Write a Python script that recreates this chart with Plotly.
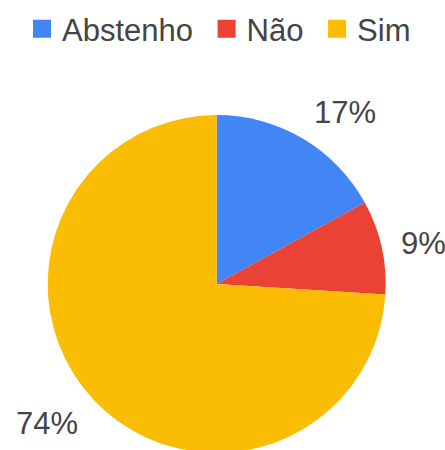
import math
import plotly.graph_objects as go

# ---- data ----
labels = ["Abstenho", "Não", "Sim"]
values = [17, 9, 74]
colors = ["#4285F4", "#EA4335", "#FBBC04"]

# ---- geometry (pixels) ----
W, H = 445, 460
cx, cy, r = 216.7, 284.0, 169.0
gap = 18.0
half_h = 11.0
font_family = "Liberation Sans, Arial, sans-serif"
text_color = "#444444"
font_size = 31

fig = go.Figure()

fig.add_trace(go.Pie(
    labels=labels,
    values=values,
    marker=dict(colors=colors, line=dict(width=0)),
    sort=False,
    direction="clockwise",
    rotation=0,
    textinfo="none",
    hoverinfo="label+percent",
    showlegend=False,
    domain=dict(x=[(cx - r) / W, (cx + r) / W],
                y=[1 - (cy + r) / H, 1 - (cy - r) / H]),
))

# legend entries (square markers); a trailing no-break space widens the
# spacing between entries like the reference legend
for i, (lab, col) in enumerate(zip(labels, colors)):
    name = lab + ("\u00a0" if i < len(labels) - 1 else "")
    fig.add_trace(go.Scatter(
        x=[None], y=[None], mode="markers", name=name,
        marker=dict(symbol="square", size=16, color=col,
                    line=dict(width=2, color=col)),
        showlegend=True, hoverinfo="skip",
    ))

# percentage labels placed outside slices, computed from values
total = sum(values)
annotations = []
cum = 0.0
for v in values:
    mid = (cum + v / 2) / total * 2 * math.pi
    cum += v
    s, c = math.sin(mid), -math.cos(mid)
    px = cx + (r + gap) * s
    py = cy + (r + gap) * c
    xa = "left" if s > 0.2 else ("right" if s < -0.2 else "center")
    if c < -0.3:
        py -= half_h
    elif c > 0.3:
        py += half_h
    annotations.append(dict(
        x=px / W, y=1 - py / H, xref="paper", yref="paper",
        text=f"{round(v / total * 100)}%", showarrow=False,
        xanchor=xa, yanchor="middle",
        font=dict(size=31, color=text_color, family=font_family),
    ))

fig.update_layout(
    width=W, height=H,
    margin=dict(l=0, r=0, t=0, b=0),
    paper_bgcolor="white", plot_bgcolor="white",
    xaxis=dict(visible=False), yaxis=dict(visible=False),
    font=dict(family=font_family, color=text_color),
    legend=dict(orientation="h", x=219 / W, xanchor="center",
                y=1 - 29 / H, yanchor="middle",
                font=dict(size=font_size, color=text_color, family=font_family)),
    annotations=annotations,
)

fig.write_html("out.html",
               config={"displayModeBar": False},
               post_script="document.body.style.margin='0';document.body.style.overflow='hidden';")
